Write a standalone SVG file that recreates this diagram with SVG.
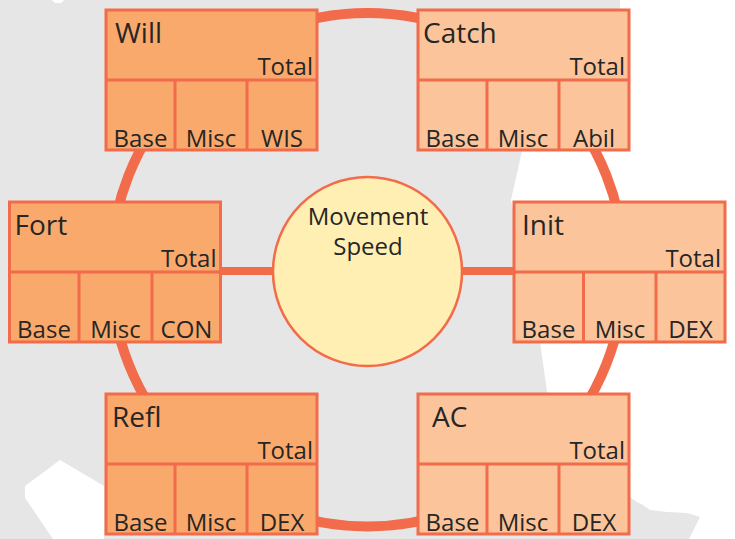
<svg xmlns="http://www.w3.org/2000/svg" width="735" height="539" viewBox="0 0 735 539">
<defs>
<style>
.box rect{stroke:#F26B4A;stroke-width:3}
.box line{stroke:#F26B4A;stroke-width:3}
.l rect{fill:#FAA96C}
.r rect{fill:#FCC49A}
text{font-family:"Open Sans","Noto Sans","Liberation Sans",sans-serif;fill:#262626}
.t{font-size:28px}
.s{font-size:24px}
.c{font-size:24px;text-anchor:middle}
.e{text-anchor:end}
.conn{stroke:#F26B4A;fill:none}
</style>
</defs>
<g id="background">
<rect x="0" y="0" width="735" height="539" fill="#E6E6E6"/>
<polygon fill="#FFFFFF" points="620,0 735,0 735,539 689,539 700,517 687,513 667,512 650,510 643,505 637,502 631,498 547,392 540,342 511,200 522,151 620,8"/>
<polygon fill="#FFFFFF" points="25,486 60,460 104,486 104,539 53,539 25,498"/>
<polygon fill="#FFFFFF" points="52,0 64,0 61,3 55,3"/>
</g>
<g id="connectors">
<circle class="conn" cx="367.5" cy="269.7" r="256.8" stroke-width="10"/>
<line class="conn" x1="222" y1="271" x2="276" y2="271" stroke-width="8"/>
<line class="conn" x1="459" y1="271" x2="514" y2="271" stroke-width="8"/>
</g>
<g id="center">
<circle cx="367.5" cy="271.5" r="94.5" fill="#FFEFB2" stroke="#F26B4A" stroke-width="2.5"/>
<text class="c" x="368" y="225">Movement</text>
<text class="c" x="368" y="255">Speed</text>
</g>
<g id="will" class="box l" transform="translate(106,10)">
<rect x="0" y="0" width="211" height="140"/>
<line x1="0" y1="70" x2="211" y2="70"/>
<line x1="69" y1="70" x2="69" y2="140"/>
<line x1="141" y1="70" x2="141" y2="140"/>
<text class="t" x="9" y="33">Will</text>
<text class="s e" x="207" y="65">Total</text>
<text class="c" x="34.5" y="136.5">Base</text>
<text class="c" x="105" y="136.5">Misc</text>
<text class="c" x="176" y="136.5">WIS</text>
</g>
<g id="catch" class="box r" transform="translate(418,10)">
<rect x="0" y="0" width="211" height="140"/>
<line x1="0" y1="70" x2="211" y2="70"/>
<line x1="69" y1="70" x2="69" y2="140"/>
<line x1="141" y1="70" x2="141" y2="140"/>
<text class="t" x="5" y="33">Catch</text>
<text class="s e" x="207" y="65">Total</text>
<text class="c" x="34.5" y="136.5">Base</text>
<text class="c" x="105" y="136.5">Misc</text>
<text class="c" x="176" y="136.5">Abil</text>
</g>
<g id="fort" class="box l" transform="translate(9.5,202)">
<rect x="0" y="0" width="211" height="140"/>
<line x1="0" y1="70" x2="211" y2="70"/>
<line x1="69.5" y1="70" x2="69.5" y2="140"/>
<line x1="142.5" y1="70" x2="142.5" y2="140"/>
<text class="t" x="5" y="33">Fort</text>
<text class="s e" x="207" y="65">Total</text>
<text class="c" x="34.5" y="136">Base</text>
<text class="c" x="106" y="136">Misc</text>
<text class="c" x="177" y="136">CON</text>
</g>
<g id="init" class="box r" transform="translate(514,202)">
<rect x="0" y="0" width="211" height="140"/>
<line x1="0" y1="70" x2="211" y2="70"/>
<line x1="69.5" y1="70" x2="69.5" y2="140"/>
<line x1="142" y1="70" x2="142" y2="140"/>
<text class="t" x="8" y="33">Init</text>
<text class="s e" x="207" y="65">Total</text>
<text class="c" x="34.5" y="136">Base</text>
<text class="c" x="106" y="136">Misc</text>
<text class="c" x="176.5" y="136">DEX</text>
</g>
<g id="refl" class="box l" transform="translate(106,394)">
<rect x="0" y="0" width="211" height="140"/>
<line x1="0" y1="70" x2="211" y2="70"/>
<line x1="69" y1="70" x2="69" y2="140"/>
<line x1="141" y1="70" x2="141" y2="140"/>
<text class="t" x="6" y="33">Refl</text>
<text class="s e" x="207" y="65">Total</text>
<text class="c" x="34.5" y="136.5">Base</text>
<text class="c" x="105" y="136.5">Misc</text>
<text class="c" x="176" y="136.5">DEX</text>
</g>
<g id="ac" class="box r" transform="translate(418,394)">
<rect x="0" y="0" width="211" height="140"/>
<line x1="0" y1="70" x2="211" y2="70"/>
<line x1="69" y1="70" x2="69" y2="140"/>
<line x1="141" y1="70" x2="141" y2="140"/>
<text class="t" x="14" y="33">AC</text>
<text class="s e" x="207" y="65">Total</text>
<text class="c" x="34.5" y="136.5">Base</text>
<text class="c" x="105" y="136.5">Misc</text>
<text class="c" x="176" y="136.5">DEX</text>
</g>
</svg>
